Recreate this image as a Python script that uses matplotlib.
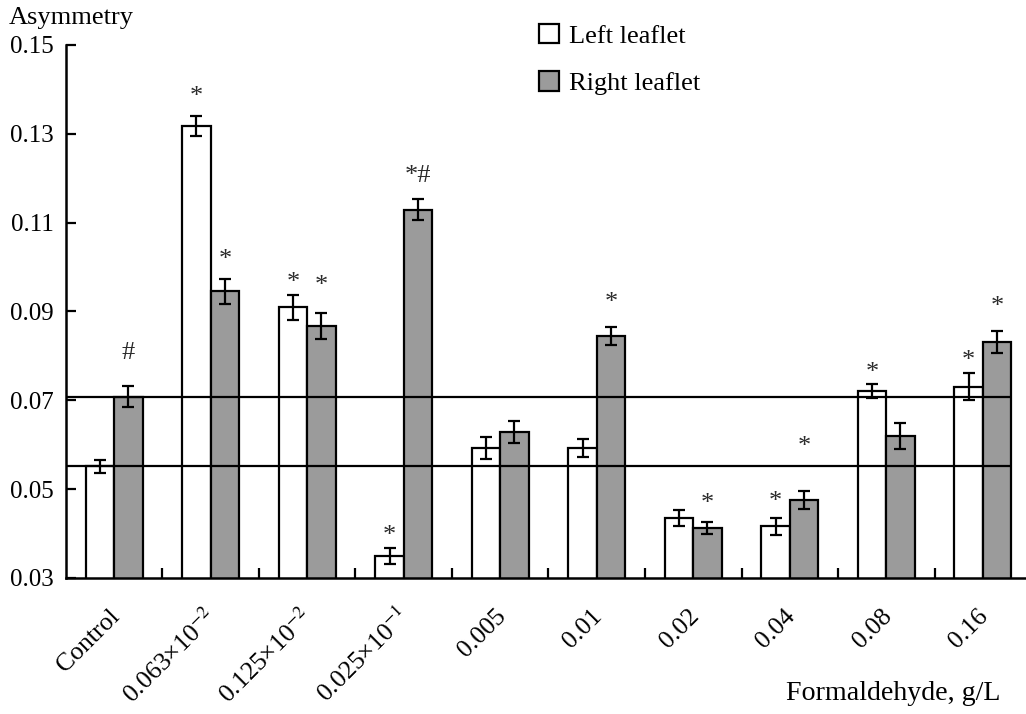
import numpy as np
import matplotlib
matplotlib.use('Agg')
import matplotlib.pyplot as plt
from matplotlib.patches import Patch
from matplotlib.transforms import ScaledTranslation

plt.rcParams['font.family'] = ['Liberation Serif', 'DejaVu Serif']
plt.rcParams['mathtext.fontset'] = 'stix'

# data
categories = ['Control', r'0.063×10$^{-2}$', r'0.125×10$^{-2}$', r'0.025×10$^{-1}$',
              '0.005', '0.01', '0.02', '0.04', '0.08', '0.16']
left_vals = [0.0551, 0.1318, 0.0909, 0.0350, 0.0592, 0.0592, 0.0436, 0.0416, 0.0721, 0.0731]
left_err = [0.0015, 0.0022, 0.0029, 0.0018, 0.0025, 0.0020, 0.0018, 0.0020, 0.0015, 0.0030]
right_vals = [0.0708, 0.0945, 0.0867, 0.1129, 0.0629, 0.0845, 0.0413, 0.0476, 0.0620, 0.0832]
right_err = [0.0024, 0.0029, 0.0029, 0.0024, 0.0024, 0.0020, 0.0013, 0.0020, 0.0029, 0.0025]

# significance marks: (group, side, text, label height)
marks = [
    (0, 'R', '#', 0.0807),
    (1, 'L', '*', 0.1383),
    (1, 'R', '*', 0.1016),
    (2, 'L', '*', 0.0964),
    (2, 'R', '*', 0.0957),
    (3, 'L', '*', 0.0395),
    (3, 'R', '*#', 0.1204),
    (5, 'R', '*', 0.0919),
    (6, 'R', '*', 0.0467),
    (7, 'L', '*', 0.0471),
    (7, 'R', '*', 0.0595),
    (8, 'L', '*', 0.0762),
    (9, 'L', '*', 0.0789),
    (9, 'R', '*', 0.0910),
]

yticks = [0.03, 0.05, 0.07, 0.09, 0.11, 0.13, 0.15]

gray = '#9b9b9b'
bw = 0.295
fs = 18

fig = plt.figure(figsize=(10.26, 7.14), dpi=100)
ax = fig.add_axes([0.0643, 0.1905, 0.9357, 0.7465])

x = np.arange(len(categories))
ax.bar(x - bw / 2, left_vals, bw, color='white', edgecolor='black', linewidth=1.6, zorder=2)
ax.bar(x + bw / 2, right_vals, bw, color=gray, edgecolor='black', linewidth=1.6, zorder=2)
ax.errorbar(x - bw / 2, left_vals, yerr=left_err, fmt='none', ecolor='black',
            elinewidth=1.6, capsize=4.5, capthick=1.6, zorder=4)
ax.errorbar(x + bw / 2, right_vals, yerr=right_err, fmt='none', ecolor='black',
            elinewidth=1.6, capsize=4.5, capthick=1.6, zorder=4)

# control reference lines
ax.hlines([left_vals[0], right_vals[0]], -0.5, x[-1] + bw, colors='black', linewidth=1.6, zorder=3)

for g, side, txt, yy in marks:
    xx = g - bw / 2 if side == 'L' else g + bw / 2
    ax.text(xx, yy, txt, ha='center', va='center', fontsize=19, color='#2a2a2a', zorder=5)

ax.set_xlim(-0.5, 9.448)
ax.set_ylim(0.03, 0.15)
ax.set_yticks(yticks)
ax.set_yticklabels([f'{v:.2f}' for v in yticks], fontsize=fs)
ax.set_xticks(x)
ax.set_xticklabels(categories, fontsize=18.5, rotation=45, ha='right', va='center',
                   rotation_mode='anchor')
ax.set_xticks(x[:-1] + 0.5, minor=True)
ax.tick_params(axis='x', which='major', length=0, pad=25)
ax.tick_params(axis='x', which='minor', direction='in', length=7, width=1.6)
ax.tick_params(axis='y', direction='in', length=7, width=1.6, pad=9)
shift = ScaledTranslation(1.5 / 72, 0, fig.dpi_scale_trans)
for lab in ax.get_xticklabels():
    lab.set_transform(lab.get_transform() + shift)

for s in ['top', 'right']:
    ax.spines[s].set_visible(False)
for s in ['left', 'bottom']:
    ax.spines[s].set_linewidth(1.8)

fig.text(0.009, 0.975, 'Asymmetry', fontsize=19, ha='left', va='center')
fig.text(0.975, 0.029, 'Formaldehyde, g/L', fontsize=20.2, ha='right', va='center')

handles = [Patch(facecolor='white', edgecolor='black', linewidth=1.6),
           Patch(facecolor=gray, edgecolor='black', linewidth=1.6)]
fig.legend(handles, ['Left leaflet', 'Right leaflet'], loc='upper left',
           bbox_to_anchor=(0.502, 1.0), frameon=False, fontsize=19,
           handlelength=0.76, handleheight=0.76, handletextpad=0.4, labelspacing=0.9)

fig.savefig('out.png', dpi=100)
